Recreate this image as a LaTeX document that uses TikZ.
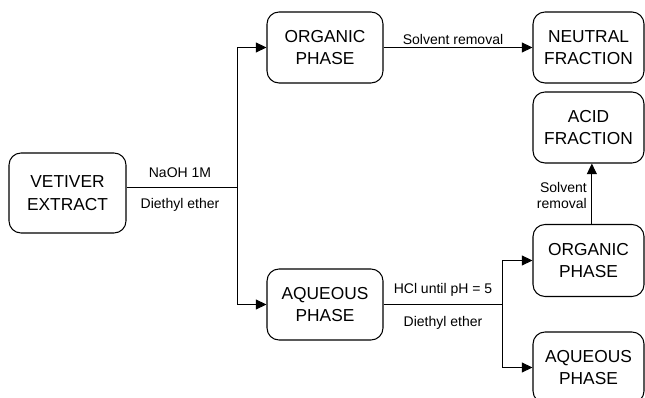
\documentclass[tikz,border=0pt]{standalone}
\usepackage{fontspec}
\setmainfont{Liberation Sans}
\usetikzlibrary{arrows.meta}
\tikzset{
  box/.style={draw, line width=0.8pt, rounded corners=9pt, align=center,
    font=\fontsize{13}{17}\selectfont, inner sep=0pt},
  lbl/.style={font=\fontsize{10.5}{11.5}\selectfont, inner sep=0pt, align=center},
  conn/.style={line width=0.75pt},
  arr/.style={conn, -{Triangle[length=8pt,width=7.5pt]}},
}
\begin{document}
\begin{tikzpicture}[x=0.75pt,y=-0.75pt]
\useasboundingbox (0,0) rectangle (645,398);
\clip (0,0) rectangle (645,398);
\fill[white] (0,0) rectangle (645,398);
% boxes
\node[box, minimum width=87.75pt, minimum height=60pt] (vet) at (67.5,193) {VETIVER\\EXTRACT};
\node[box, minimum width=87pt, minimum height=53.25pt] (org1) at (325,47.5) {ORGANIC\\PHASE};
\node[box, minimum width=87pt, minimum height=53.25pt] (aq1) at (325,304.5) {AQUEOUS\\PHASE};
\node[box, minimum width=83.25pt, minimum height=53.25pt] (neu) at (588.5,47.5) {NEUTRAL\\FRACTION};
\node[box, minimum width=83.25pt, minimum height=53.25pt] (acid) at (588.5,127.5) {ACID\\FRACTION};
\node[box, minimum width=83.25pt, minimum height=54pt] (org2) at (588.5,260.5) {ORGANIC\\PHASE};
\node[box, minimum width=83.25pt, minimum height=53.25pt] (aq2) at (588.5,367.5) {AQUEOUS\\PHASE};
% junctions
\coordinate (j1) at (237,188);
\coordinate (j2) at (502,304.5);
% connectors
\draw[conn] (vet.east |- j1) -- (j1);
\draw[arr] (j1) |- (org1.west);
\draw[arr] (j1) |- (aq1.west);
\draw[arr] (org1.east) -- (neu.west);
\draw[conn] (aq1.east) -- (j2);
\draw[arr] (j2) |- (org2.west);
\draw[arr] (j2) |- (aq2.west);
\draw[arr] ([xshift=2.5]org2.north) -- ([xshift=2.5]acid.south);
% labels
\node[lbl] (l1) at (180,173) {NaOH 1M};
\node[lbl] (l2) at (180,205) {Diethyl ether};
\node[lbl] (l3) at (453,40) {Solvent removal};
\node[lbl] (l4) at (443,290) {HCl until pH = 5};
\node[lbl] (l5) at (443,323) {Diethyl ether};
\node[lbl, align=right, anchor=east, font=\fontsize{10.5}{11.3}\selectfont] (l6) at (587,195.5) {Solvent\\removal};
\end{tikzpicture}
\end{document}
